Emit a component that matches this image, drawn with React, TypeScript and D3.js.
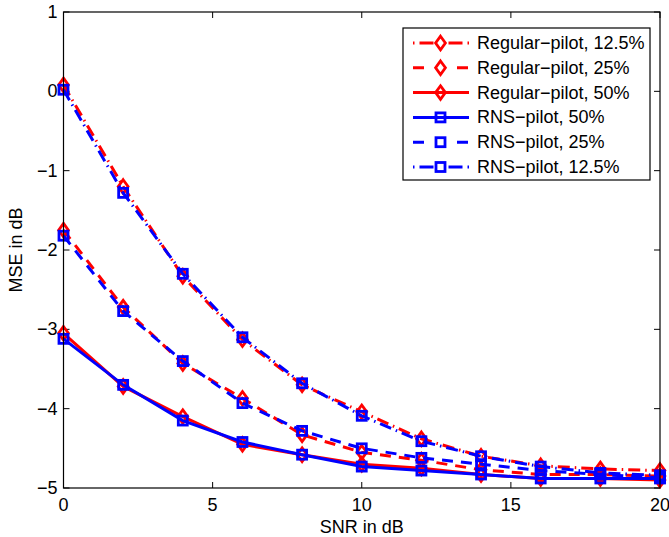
import * as d3 from "d3";

const snr = [0, 2, 4, 6, 8, 10, 12, 14, 16, 18, 20];

const reg125 = [0.08, -1.2, -2.33, -3.13, -3.7, -4.04, -4.38, -4.6, -4.72, -4.76, -4.78];
const reg25 = [-1.75, -2.72, -3.43, -3.87, -4.33, -4.55, -4.65, -4.77, -4.83, -4.83, -4.85];
const reg50 = [-3.05, -3.72, -4.1, -4.45, -4.58, -4.7, -4.75, -4.83, -4.88, -4.88, -4.9];
const rns50 = [-3.12, -3.7, -4.15, -4.42, -4.58, -4.73, -4.78, -4.83, -4.88, -4.88, -4.88];
const rns25 = [-1.82, -2.77, -3.4, -3.93, -4.28, -4.5, -4.62, -4.7, -4.78, -4.83, -4.87];
const rns125 = [0.02, -1.28, -2.3, -3.1, -3.68, -4.09, -4.41, -4.6, -4.73, -4.81, -4.84];

const xTicks = [0, 5, 10, 15, 20];
const yTicks = [1, 0, -1, -2, -3, -4, -5];

type Series = {
  name: string;
  values: number[];
  color: string;
  dash: string;
  legDash: string;
  marker: "diamond" | "square";
};

const DASHDOT = "12,5,1.5,5";
const DASHED = "11,8";
const LEG_DASHDOT = "1.5,5,14,15,14,5,1.5";
const LEG_DASHED = "11,33,11";

const series: Series[] = [
  { name: "Regular\u2212pilot, 12.5%", values: reg125, color: "#ff0000", dash: DASHDOT, legDash: LEG_DASHDOT, marker: "diamond" },
  { name: "Regular\u2212pilot, 25%", values: reg25, color: "#ff0000", dash: DASHED, legDash: LEG_DASHED, marker: "diamond" },
  { name: "Regular\u2212pilot, 50%", values: reg50, color: "#ff0000", dash: "", legDash: "", marker: "diamond" },
  { name: "RNS\u2212pilot, 50%", values: rns50, color: "#0000ff", dash: "", legDash: "", marker: "square" },
  { name: "RNS\u2212pilot, 25%", values: rns25, color: "#0000ff", dash: DASHED, legDash: LEG_DASHED, marker: "square" },
  { name: "RNS\u2212pilot, 12.5%", values: rns125, color: "#0000ff", dash: DASHDOT, legDash: LEG_DASHDOT, marker: "square" },
];

const W = 669;
const H = 537;
const left = 63.5;
const right = 660;
const top = 12;
const bottom = 488;
const font = "Liberation Sans, Arial, sans-serif";
const FS = 18;

function Marker({ kind, x, y, color }: { kind: string; x: number; y: number; color: string }) {
  if (kind === "diamond") {
    const r = 6.8;
    return (
      <path
        d={`M${x},${y - r}L${x + r * 0.72},${y}L${x},${y + r}L${x - r * 0.72},${y}Z`}
        fill="none"
        stroke={color}
        strokeWidth={2.8}
      />
    );
  }
  const s = 4.5;
  return <rect x={x - s} y={y - s} width={2 * s} height={2 * s} fill="none" stroke={color} strokeWidth={2.8} />;
}

export default function App() {
  const x = d3.scaleLinear().domain([0, 20]).range([left, right]);
  const y = d3.scaleLinear().domain([-5, 1]).range([bottom, top]);
  const line = d3
    .line<number>()
    .x((_, i) => x(snr[i]))
    .y((d) => y(d));

  const legX = 403;
  const legY = 28;
  const legW = 247;
  const legH = 152;
  const rowH = 24.8;

  return (
    <svg width={W} height={H} style={{ position: "absolute", left: 0, top: 0 }} fontFamily={font}>
      <rect x={0} y={0} width={W} height={H} fill="#fff" />
      {/* ticks */}
      {xTicks.map((t) => (
        <g key={"x" + t}>
          <line x1={x(t)} x2={x(t)} y1={bottom} y2={bottom - 6} stroke="#000" />
          <line x1={x(t)} x2={x(t)} y1={top} y2={top + 6} stroke="#000" />
          <text x={x(t)} y={bottom + 23} fontSize={FS} textAnchor="middle">
            {t}
          </text>
        </g>
      ))}
      {yTicks.map((t) => (
        <g key={"y" + t}>
          <line x1={left} x2={left + 6} y1={y(t)} y2={y(t)} stroke="#000" />
          <line x1={right} x2={right - 6} y1={y(t)} y2={y(t)} stroke="#000" />
          <text x={left - 6} y={y(t) + 6} fontSize={FS} textAnchor="end">
            {t < 0 ? "\u2212" + Math.abs(t) : t}
          </text>
        </g>
      ))}
      {/* series */}
      {series.map((s) => (
        <g key={s.name}>
          <path
            d={line(s.values) ?? ""}
            fill="none"
            stroke={s.color}
            strokeWidth={3}
            strokeDasharray={s.dash || undefined}
          />
          {s.values.map((v, i) => (
            <Marker key={i} kind={s.marker} x={x(snr[i])} y={y(v)} color={s.color} />
          ))}
        </g>
      ))}
      <rect x={left} y={top} width={right - left} height={bottom - top} fill="none" stroke="#000" strokeWidth={1.2} />
      {/* axis labels */}
      <text x={(left + right) / 2} y={533} fontSize={FS} textAnchor="middle">
        SNR in dB
      </text>
      <text transform={`translate(22,${(top + bottom) / 2}) rotate(-90)`} fontSize={FS} textAnchor="middle">
        MSE in dB
      </text>
      {/* legend */}
      <rect x={legX} y={legY} width={legW} height={legH} fill="#fff" stroke="#000" strokeWidth={1.2} />
      {series.map((s, i) => {
        const cy = legY + 15 + i * rowH;
        return (
          <g key={"leg" + i}>
            <line
              x1={413}
              x2={469}
              y1={cy}
              y2={cy}
              stroke={s.color}
              strokeWidth={3}
              strokeDasharray={s.legDash || undefined}
            />
            <Marker kind={s.marker} x={440.5} y={cy} color={s.color} />
            <text x={477} y={cy + 6} fontSize={FS}>
              {s.name}
            </text>
          </g>
        );
      })}
    </svg>
  );
}
